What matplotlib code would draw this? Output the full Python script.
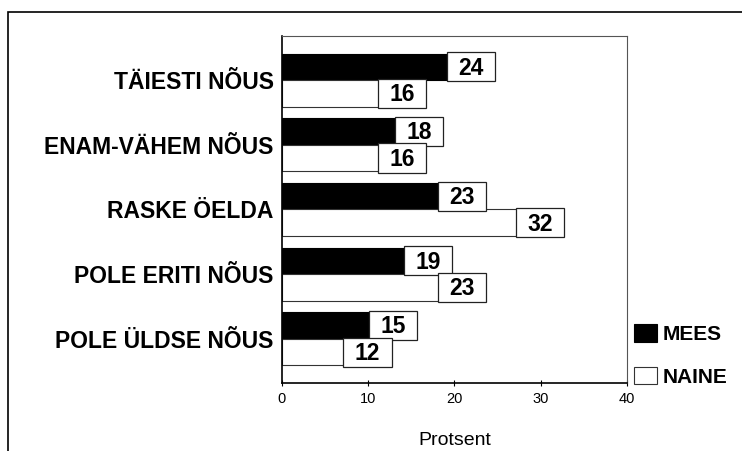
import numpy as np
import matplotlib
matplotlib.use('Agg')
import matplotlib.pyplot as plt
from matplotlib.patches import Rectangle

plt.rcParams['font.family'] = ['Liberation Sans', 'DejaVu Sans']

# andmed
kategooriad = ['TÄIESTI NÕUS', 'ENAM-VÄHEM NÕUS', 'RASKE ÖELDA',
               'POLE ERITI NÕUS', 'POLE ÜLDSE NÕUS']
mees = [24, 18, 23, 19, 15]
naine = [16, 16, 32, 23, 12]
x_ticks = [0, 10, 20, 30, 40]

fig = plt.figure(figsize=(7.42, 4.51), dpi=100)
ax = fig.add_axes([0.380, 0.151, 0.465, 0.769])

y = np.arange(len(kategooriad))
h = 0.41
b1 = ax.barh(y - h / 2, mees, height=h, color='black', edgecolor='black',
             linewidth=0.8, label='MEES')
b2 = ax.barh(y + h / 2, naine, height=h, color='white', edgecolor='#333333',
             linewidth=0.8, label='NAINE')

# väärtuste kastid
def silt(bars, vals):
    for r, v in zip(bars, vals):
        yc = r.get_y() + r.get_height() / 2
        bw = 5.6
        bh = 0.45
        ax.add_patch(Rectangle((v + 0.7 - bw, yc - bh / 2), bw, bh,
                               facecolor='white', edgecolor='#222222',
                               linewidth=0.9, zorder=3))
        ax.text(v + 0.7 - bw / 2, yc + 0.02, str(v), ha='center', va='center',
                fontsize=16.5, fontweight='bold', zorder=4)

silt(b1, mees)
silt(b2, naine)

ax.set_xlim(0, 40)
ax.set_ylim(len(kategooriad) - 1 + 0.68, -0.68)
ax.set_xticks(x_ticks)
ax.set_xticklabels([str(t) for t in x_ticks], fontsize=10.5)
ax.tick_params(axis='x', direction='inout', length=5, width=0.8, pad=4)
ax.set_yticks(y)
ax.set_yticklabels(kategooriad, fontsize=16.5, fontweight='bold')
ax.tick_params(axis='y', length=0, pad=6)
ax.set_xlabel('Protsent', fontsize=14, labelpad=19)

for s in ['top', 'right']:
    ax.spines[s].set_color('#555555')
    ax.spines[s].set_linewidth(0.8)
for s in ['left', 'bottom']:
    ax.spines[s].set_color('black')
    ax.spines[s].set_linewidth(1.2)

leg = fig.legend(handles=[b1, b2], loc='lower left',
                 bbox_to_anchor=(0.855, 0.142), frameon=False,
                 prop={'size': 15, 'weight': 'bold'},
                 handlelength=1.1, handleheight=0.9, handletextpad=0.25,
                 labelspacing=1.1, borderaxespad=0, borderpad=0)

# välimine raam
fig.patches.append(Rectangle((8 / 742, -0.1), 1.2, 1 - 12 / 451 + 0.1,
                             transform=fig.transFigure, fill=False,
                             edgecolor='black', linewidth=1.2))

fig.savefig('out.png', dpi=100)
